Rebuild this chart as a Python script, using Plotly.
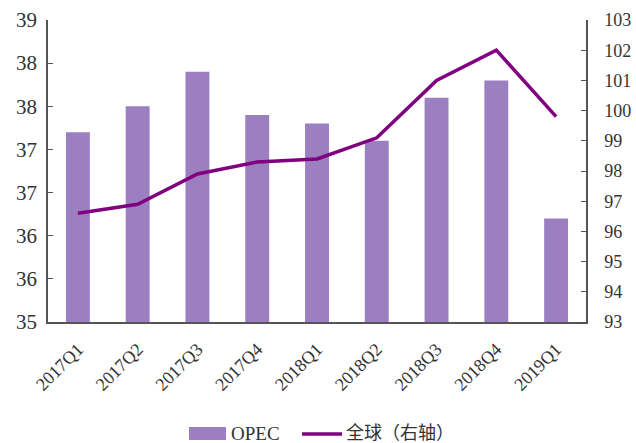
import plotly.graph_objects as go
import math

categories = ["2017Q1", "2017Q2", "2017Q3", "2017Q4", "2018Q1", "2018Q2", "2018Q3", "2018Q4", "2019Q1"]
opec = [37.2, 37.5, 37.9, 37.4, 37.3, 37.1, 37.6, 37.8, 36.2]
world = [96.6, 96.9, 97.9, 98.3, 98.4, 99.1, 101.0, 102.0, 99.8]
left_ticks = [35, 35.5, 36, 36.5, 37, 37.5, 38, 38.5]
left_labels = [str(int(math.floor(v + 0.5))) for v in left_ticks]
right_ticks = list(range(93, 104))
series_names = ["OPEC", "全球（右轴）"]

serif = "'Liberation Serif', 'Times New Roman', 'Noto Sans CJK SC', serif"
bar_color = "#9B7FC1"
line_color = "#800080"
axis_color = "#555555"

fig = go.Figure()
fig.add_trace(go.Bar(x=categories, y=opec, name=series_names[0], marker_color=bar_color,
                     marker_line_width=0, width=0.4, yaxis="y"))
fig.add_trace(go.Scatter(x=categories, y=world, name=series_names[1], mode="lines",
                         line=dict(color=line_color, width=3.5), yaxis="y2"))

# plot area geometry (pixels) used for the hand-made legend
L, R, T, B = 48, 586, 20, 322
def px(x):
    return (x - L) / (R - L)
def py(y):
    return (B - y) / (B - T)

shapes = [
    dict(type="rect", xref="paper", yref="paper", x0=px(189), x1=px(226), y0=py(440), y1=py(427),
         fillcolor=bar_color, line=dict(width=0)),
    dict(type="line", xref="paper", yref="paper", x0=px(302), x1=px(342), y0=py(434), y1=py(434),
         line=dict(color=line_color, width=3.5)),
]
annotations = [
    dict(xref="paper", yref="paper", x=px(229), y=py(433), text=series_names[0], showarrow=False,
         xanchor="left", yanchor="middle", font=dict(size=19, family=serif, color="#333333")),
    dict(xref="paper", yref="paper", x=px(344), y=py(433), text=series_names[1], showarrow=False,
         xanchor="left", yanchor="middle", font=dict(size=18, family=serif, color="#333333")),
]

fig.update_layout(
    width=636, height=443,
    margin=dict(l=L, r=636 - R, t=T, b=443 - B),
    paper_bgcolor="white", plot_bgcolor="white",
    font=dict(family=serif, color="#333333", size=18),
    showlegend=False,
    shapes=shapes, annotations=annotations,
    xaxis=dict(type="category", range=[-0.5, 8.5], showline=True, linecolor=axis_color,
               linewidth=1.5, ticks="", tickangle=-45, tickfont=dict(size=18), showgrid=False,
               automargin=False, ticklabelstandoff=8),
    yaxis=dict(range=[35, 38.5], tickvals=left_ticks, ticktext=left_labels, showline=True,
               linecolor=axis_color, linewidth=1.5, ticks="inside", ticklen=5, tickcolor=axis_color,
               showgrid=False, zeroline=False, tickfont=dict(size=21), automargin=False,
               ticklabelstandoff=5),
    yaxis2=dict(range=[93, 103], tickvals=right_ticks, overlaying="y", side="right",
                showline=True, linecolor=axis_color, linewidth=1.5, ticks="inside", ticklen=5,
                tickcolor=axis_color, showgrid=False, zeroline=False, tickfont=dict(size=18),
                automargin=False, ticklabelstandoff=13),
)

fig.write_html("out.html", config={"displayModeBar": False},
               post_script="document.body.style.margin='0';document.body.style.overflow='hidden';")
